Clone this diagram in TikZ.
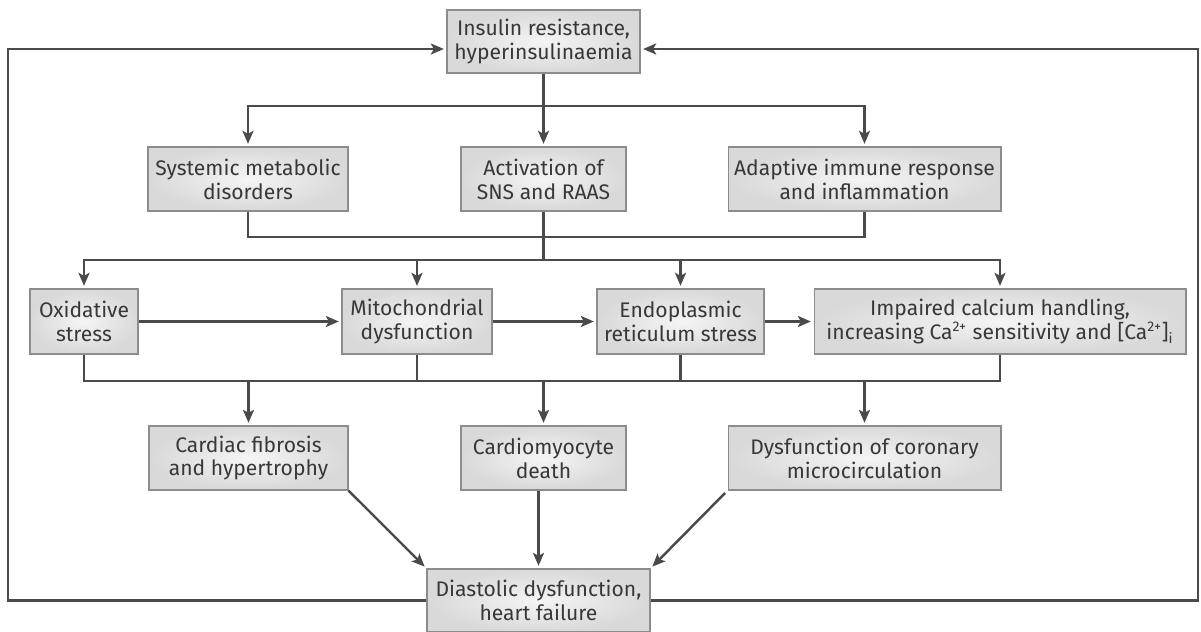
\documentclass[tikz,border=0pt]{standalone}
\usepackage{fontspec}
\setmainfont{Fira Sans}
\usepackage{xcolor}
\usepackage{tikz}
\usetikzlibrary{arrows.meta,positioning}
\definecolor{linegray}{HTML}{4A4A4A}
\definecolor{edgegray}{HTML}{8C8C8C}
\definecolor{textgray}{HTML}{383838}

\begin{document}
\begin{tikzpicture}[x=0.02cm,y=-0.02cm,>={Stealth[length=2.6mm,width=2.2mm,inset=0.6mm]},
 font=\fontsize{12}{13.6}\selectfont,
 box/.style={draw=edgegray,line width=0.6pt,shading=radial,inner color=gray!8,outer color=gray!30,
  text=textgray,align=center,inner sep=2pt,minimum height=1.28cm},
 link/.style={draw=linegray,line width=1.4pt},
 arr/.style={link,->,shorten >=1.5pt}]
\useasboundingbox (0,0) rectangle (1201,632);
\node[box,minimum width=3.86cm,minimum height=1.26cm] (ins) at (543.5,41.5) {Insulin resistance,\\hyperinsulinaemia};
\node[box,minimum width=4cm] (sys) at (248,179) {Systemic metabolic\\disorders};
\node[box,minimum width=3.3cm] (sns) at (543.5,179) {Activation of\\SNS and RAAS};
\node[box,minimum width=5.46cm] (imm) at (864.5,179) {Adaptive immune response\\and inflammation};
\node[box,minimum width=2.16cm,minimum height=1.3cm] (ox) at (84,321.5) {Oxidative\\stress};
\node[box,minimum width=3cm,minimum height=1.3cm] (mito) at (417,321.5) {Mitochondrial\\dysfunction};
\node[box,minimum width=3.34cm,minimum height=1.3cm] (er) at (680.5,321.5) {Endoplasmic\\reticulum stress};
\node[box,minimum width=7.44cm,minimum height=1.3cm] (ca) at (1000,321.5) {Impaired calcium handling,\\increasing Ca\textsuperscript{2+} sensitivity and [Ca\textsuperscript{2+}]\textsubscript{i}};
\node[box,minimum width=3.98cm] (fib) at (248.5,458) {Cardiac fibrosis\\and hypertrophy};
\node[box,minimum width=3.3cm] (death) at (543.5,458) {Cardiomyocyte\\death};
\node[box,minimum width=5.46cm] (mic) at (864.5,458) {Dysfunction of coronary\\microcirculation};
\node[box,minimum width=4.46cm,minimum height=1.26cm] (hf) at (538.5,600.5) {Diastolic dysfunction,\\heart failure};
\coordinate (j1) at (543.5,106);
\coordinate (j2) at (543.5,237);
\coordinate (j3) at (543.5,260);
\coordinate (j4) at (543.5,381);
\coordinate (ltop) at (8,49);
\coordinate (rtop) at (1198,49);
\draw[link] (ins) -- (j1);
\draw[arr] (j1) -| (sys);
\draw[arr] (j1) -- (sns);
\draw[arr] (j1) -| (imm);
\draw[link] (sys) |- (imm |- j2) -- (imm);
\draw[link] (sns) -- (j3);
\draw[arr] (j3) -| (ox);
\draw[arr] (j3) -| (mito);
\draw[arr] (j3) -| (er);
\draw[arr] (j3) -| (ca);
\draw[arr] (ox) -- (mito);
\draw[arr] (mito) -- (er);
\draw[arr] (er) -- (ca);
\draw[link] (ox) |- (ca |- j4) -- (ca);
\draw[link] (mito) -- (mito |- j4);
\draw[link] (er) -- (er |- j4);
\draw[arr] (fib |- j4) -- (fib);
\draw[arr] (j4) -- (death);
\draw[arr] (mic |- j4) -- (mic);
\draw[arr] (fib.south east) -- (hf.north west);
\draw[arr] (death.south -| hf) -- (hf);
\draw[arr,shorten <=2pt] (mic.south west) -- (hf.north east);
\draw[arr] (hf.west) -| (ltop) -- (ins.west |- ltop);
\draw[arr] (hf.east) -| (rtop) -- (ins.east |- rtop);
\end{tikzpicture}
\end{document}
